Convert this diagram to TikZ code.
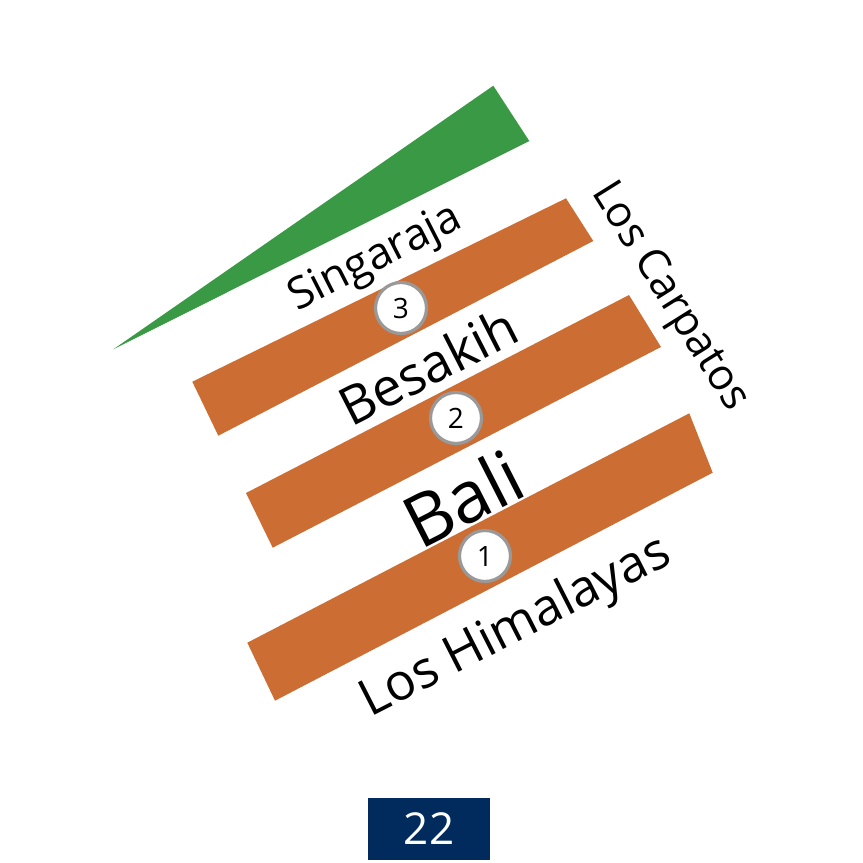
\documentclass[tikz,border=0pt]{standalone}
\usepackage{fontspec}
\setmainfont{Open Sans}
\definecolor{barorange}{HTML}{CC6E33}
\definecolor{leafgreen}{HTML}{3A9944}
\definecolor{ringgray}{HTML}{999999}
\definecolor{navy}{HTML}{002B5C}
\begin{document}
\begin{tikzpicture}[x=1pt,y=-1pt,
  bar/.style={fill=barorange,draw=none},
  numcircle/.style={circle,fill=white,draw=ringgray,line width=3.2pt,minimum size=51pt,inner sep=0pt,font=\fontsize{28}{28}\selectfont},
  lbl/.style={inner sep=0pt,rotate=27}]
\useasboundingbox (0,0) rectangle (863,863);
% green wedge
\fill[leafgreen] (113.3,349.3) -- (493.3,85.7) -- (529.3,141) -- cycle;
% bars
\fill[barorange] (192.3,381.7) -- (566,198.3) -- (593.3,241) -- (218.3,435.7) -- cycle;
\fill[barorange] (246,493) -- (629,295) -- (661,347) -- (272.7,547.7) -- cycle;
\fill[barorange] (247.3,642.7) -- (689.3,413.3) -- (712.7,472.7) -- (275,700.7) -- cycle;
% circles
\node[numcircle] (c3) at (401,308) {3};
\node[numcircle] (c2) at (456,418) {2};
\node[numcircle] (c1) at (485,556) {1};
% labels
\node[lbl,font=\fontsize{44}{44}\selectfont] (sing) at (376,259) {Singaraja};
\node[lbl,font=\fontsize{53}{53}\selectfont] (besa) at (428,366) {Besakih};
\node[lbl,font=\fontsize{72}{72}\selectfont] (bali) at (463,498) {Bali};
\node[lbl,font=\fontsize{51}{51}\selectfont] (hima) at (516,628) {Los Himalayas};
\node[inner sep=0pt,rotate=-58,font=\fontsize{43}{43}\selectfont] (carp) at (669,297) {Los Carpatos};
% page number
\node[fill=navy,text=white,minimum width=122pt,minimum height=62pt,inner sep=0pt,font=\fontsize{44}{44}\selectfont] (page) at (429,829) {22};
\end{tikzpicture}
\end{document}
